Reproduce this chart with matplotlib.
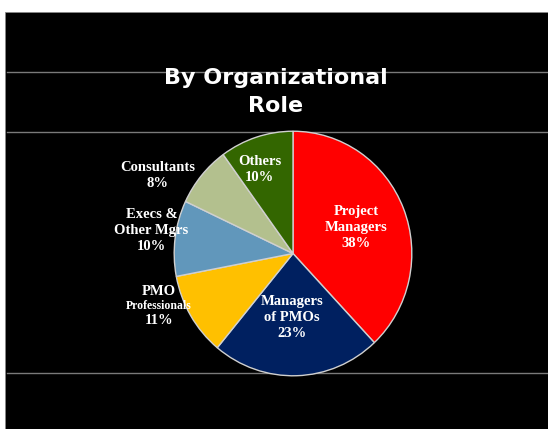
import matplotlib.pyplot as plt
import matplotlib.patches as mpatches
from matplotlib.lines import Line2D

labels = ["Project\nManagers\n38%", "Managers\nof PMOs\n23%", "PMO\nProfessionals\n11%",
          "Execs &\nOther Mgrs\n10%", "Consultants\n8%", "Others\n10%"]
values = [38, 23, 11, 10, 8, 10]
colors = ["#FF0000", "#002060", "#FFC000", "#6197BB", "#B3C08E", "#336600"]
label_pos = [(0.53, 0.21), (-0.01, -0.52), (-1.13, -0.43),
             (-1.19, 0.19), (-1.14, 0.64), (-0.28, 0.69)]

fig = plt.figure(figsize=(5.48, 4.29), dpi=100)
fig.patch.set_facecolor("white")

# black slide area, kept behind the pie
fig.patches.append(mpatches.Rectangle((5/548, 0), 543/548, 417/429, transform=fig.transFigure,
                                      facecolor="black", edgecolor="#888888", linewidth=0.6,
                                      zorder=-2))
for y in [72, 132, 373]:
    fig.lines.append(Line2D([7/548, 1], [1 - y/429, 1 - y/429], transform=fig.transFigure,
                            color="#7a7a7a", linewidth=1, zorder=-1))

ax = fig.add_axes([173/548, 52/429, 240/548, 247/429])
ax.pie(values, colors=colors, startangle=90, counterclock=False,
       wedgeprops=dict(edgecolor="#d0d0d0", linewidth=1))
ax.set_aspect("auto")
ax.set_xlim(-1.01, 1.01)
ax.set_ylim(-1.01, 1.01)

fs = 10.5
for i, (lab, (x, y)) in enumerate(zip(labels, label_pos)):
    if i == 2:
        parts = lab.split("\n")
        ax.text(x, y + 0.12, parts[0], ha="center", va="center", color="white",
                family="Liberation Serif", weight="bold", fontsize=fs)
        ax.text(x, y, parts[1], ha="center", va="center", color="white",
                family="Liberation Serif", weight="bold", fontsize=8.5)
        ax.text(x, y - 0.12, parts[2], ha="center", va="center", color="white",
                family="Liberation Serif", weight="bold", fontsize=fs)
    else:
        ax.text(x, y, lab, ha="center", va="center", color="white", linespacing=1.3,
                family="Liberation Serif", weight="bold", fontsize=fs)

fig.text(276/548, 1 - 91.5/429, "By Organizational\nRole", ha="center", va="center",
         color="white", fontsize=16, weight="bold", family="DejaVu Sans", linespacing=1.5)

fig.savefig("out.png", dpi=100, facecolor=fig.get_facecolor())
